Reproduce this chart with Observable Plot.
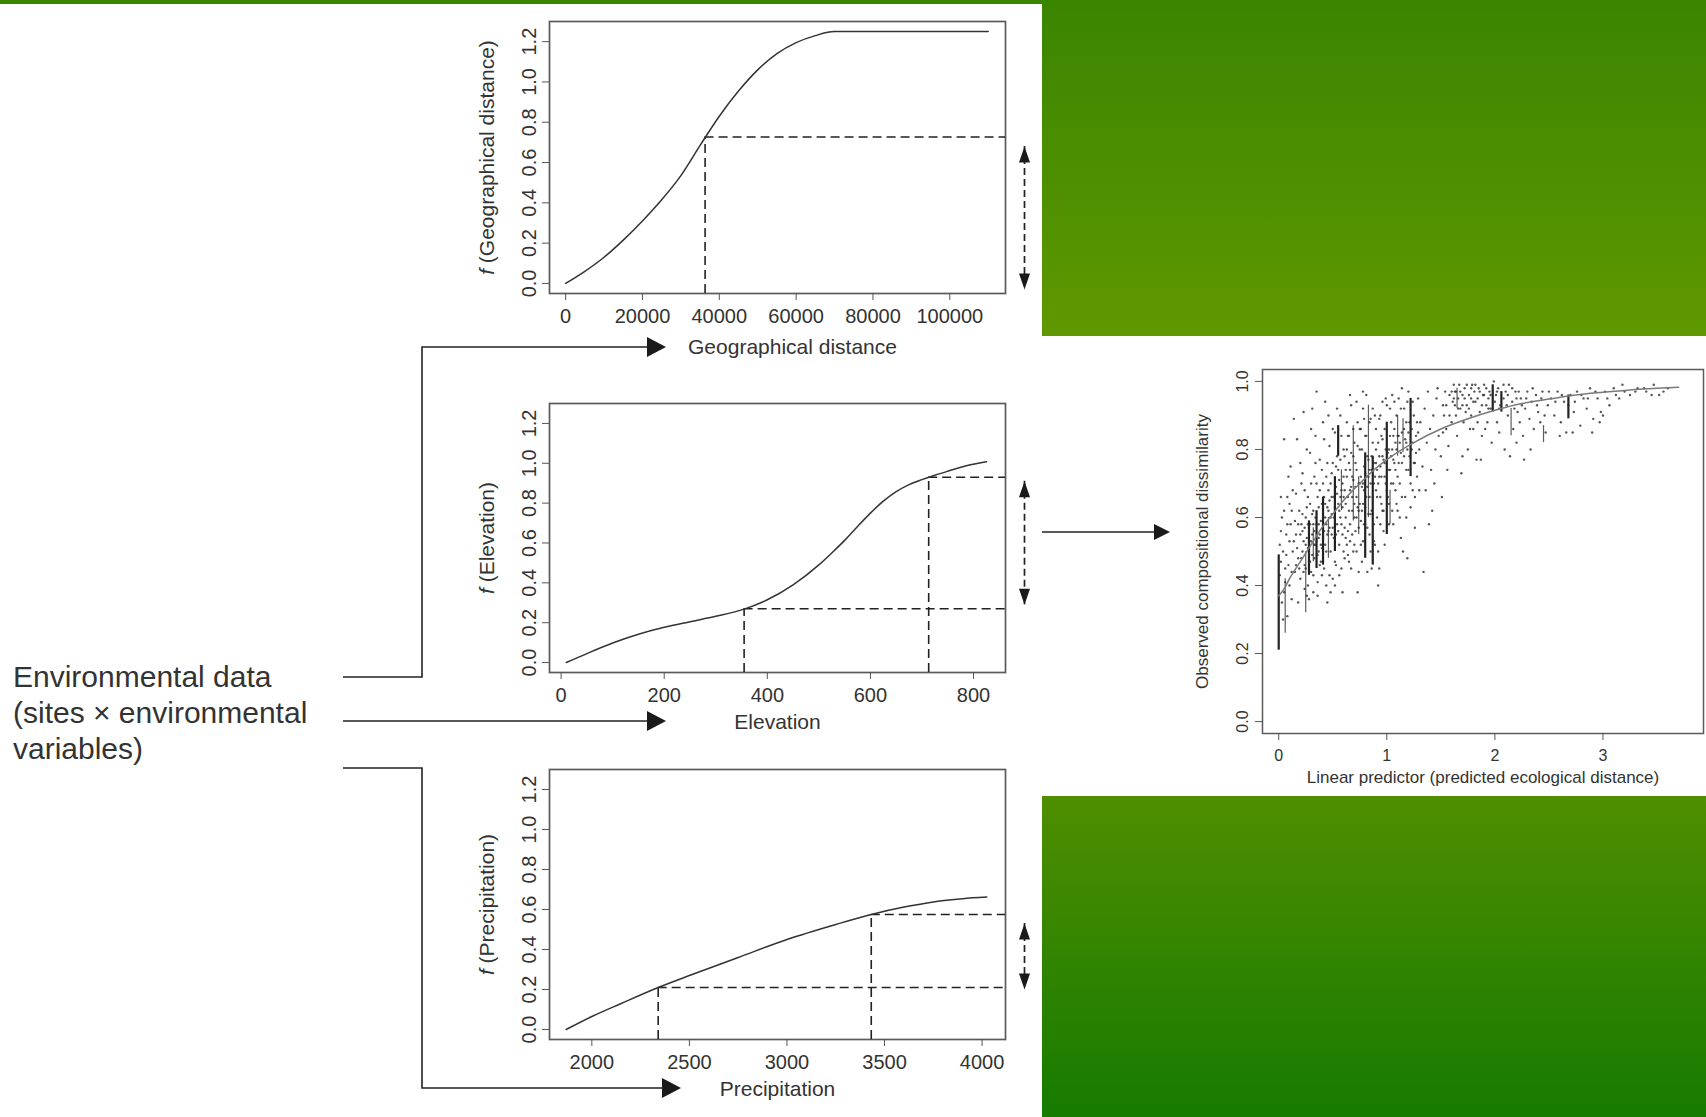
<!DOCTYPE html>
<html><head><meta charset="utf-8">
<script src="https://cdn.jsdelivr.net/npm/d3@7"></script>
<script src="https://cdn.jsdelivr.net/npm/@observablehq/plot@0.6"></script>
<style>
html,body{margin:0;padding:0;}
body{width:1706px;height:1117px;overflow:hidden;position:relative;font-family:"Liberation Sans",Arial,Helvetica,sans-serif;}
#bg{position:absolute;left:0;top:0;width:1706px;height:1117px;
 background:linear-gradient(to bottom,#3a8500 0px,#5f9800 336px,#4f8e00 796px,#167b00 1117px);}
.white{position:absolute;background:#fff;}
.panel{position:absolute;}
#overlay{position:absolute;left:0;top:0;}
</style></head>
<body>
<div id="bg"></div>
<div class="white" style="left:0;top:4px;width:1042px;height:1113px;"></div>
<div class="white" style="left:1042px;top:336px;width:664px;height:460px;"></div>
<svg id="overlay" width="1706" height="1117"></svg>
<div id="p1" class="panel" style="left:440px;top:4px;width:602px;"></div>
<div id="p2" class="panel" style="left:440px;top:380px;width:602px;"></div>
<div id="p3" class="panel" style="left:440px;top:745px;width:602px;"></div>
<div id="p4" class="panel" style="left:1170px;top:340px;width:536px;"></div>
<script>
// ---------------- data ----------------
const envLines = ["Environmental data", "(sites \u00d7 environmental", "variables)"];

const fTicks = [0, 0.2, 0.4, 0.6, 0.8, 1.0, 1.2];

const geoX = [0, 5000, 10000, 15000, 20000, 25000, 30000, 35000, 40000, 45000, 50000, 55000, 60000, 65000, 70000, 80000, 90000, 100000, 110000];
const geoF = [0, 0.06, 0.13, 0.215, 0.31, 0.415, 0.535, 0.685, 0.83, 0.955, 1.06, 1.14, 1.195, 1.23, 1.25, 1.25, 1.25, 1.25, 1.25];
const geoTicks = [0, 20000, 40000, 60000, 80000, 100000];
const geoRefX = [36300];
const geoRefF = [0.727];
const geoArrow = [-0.03, 0.68];

const elevX = [10, 50, 100, 150, 200, 250, 300, 355, 400, 450, 500, 525, 550, 575, 600, 625, 650, 675, 700, 725, 750, 790, 825];
const elevF = [0, 0.045, 0.098, 0.142, 0.177, 0.205, 0.232, 0.268, 0.315, 0.39, 0.49, 0.55, 0.613, 0.683, 0.75, 0.81, 0.858, 0.893, 0.918, 0.94, 0.96, 0.99, 1.008];
const elevTicks = [0, 200, 400, 600, 800];
const elevRefX = [355, 713];
const elevRefF = [0.27, 0.93];
const elevArrow = [0.29, 0.91];

const precX = [1868, 2000, 2150, 2340, 2500, 2750, 3000, 3250, 3432, 3600, 3750, 3900, 4024];
const precF = [0, 0.065, 0.13, 0.21, 0.27, 0.36, 0.45, 0.525, 0.575, 0.612, 0.638, 0.654, 0.662];
const precTicks = [2000, 2500, 3000, 3500, 4000];
const precRefX = [2340, 3432];
const precRefF = [0.21, 0.575];
const precArrow = [0.20, 0.53];

// GDM scatter: fitted curve, dense vertical streaks of points, and scattered points
const fitX = [0, 0.05, 0.1, 0.2, 0.3, 0.4, 0.5, 0.6, 0.75, 0.9, 1.0, 1.25, 1.5, 1.75, 2.0, 2.25, 2.5, 2.75, 3.0, 3.25, 3.5, 3.7];
const fitY = [0.37, 0.39, 0.42, 0.47, 0.52, 0.57, 0.61, 0.65, 0.70, 0.745, 0.77, 0.82, 0.86, 0.89, 0.915, 0.935, 0.948, 0.96, 0.968, 0.975, 0.98, 0.983];
const lpTicks = [0, 1, 2, 3];
const dissTicks = [0, 0.2, 0.4, 0.6, 0.8, 1.0];
const streaksHeavy = [[0.00,0.21,0.49],[0.28,0.43,0.59],[0.35,0.45,0.62],[0.41,0.46,0.66],[0.52,0.50,0.72],[0.55,0.78,0.87],[0.80,0.48,0.79],[0.87,0.46,0.78],[1.00,0.55,0.88],[1.22,0.72,0.95],[1.98,0.91,0.99],[2.06,0.91,0.97],[2.68,0.89,0.96]];
const streaksLight = [[0.06,0.26,0.42],[0.25,0.32,0.50],[0.32,0.47,0.57],[0.46,0.48,0.60],[0.58,0.62,0.74],[0.69,0.59,0.87],[0.74,0.55,0.72],[0.83,0.60,0.93],[1.03,0.58,0.68],[1.10,0.78,0.90],[1.15,0.79,0.89],[1.65,0.92,0.98],[2.15,0.84,0.92],[2.45,0.82,0.87]];
const scatterPts = [
[0.01,0.52],[0.02,0.47],[0.03,0.60],[0.05,0.83],[0.05,0.38],[0.07,0.55],[0.08,0.31],[0.09,0.72],[0.10,0.64],[0.11,0.75],[0.12,0.36],[0.13,0.50],[0.14,0.89],[0.15,0.44],[0.02,0.66],[0.04,0.30],[0.06,0.45],[0.08,0.58],[0.10,0.40],[0.12,0.62],
[0.16,0.55],[0.17,0.83],[0.18,0.48],[0.19,0.62],[0.20,0.42],[0.21,0.70],[0.22,0.56],[0.23,0.91],[0.24,0.46],[0.25,0.60],[0.26,0.37],[0.27,0.66],[0.28,0.52],[0.29,0.79],[0.30,0.44],[0.18,0.35],[0.20,0.76],[0.22,0.50],[0.24,0.68],[0.27,0.40],[0.29,0.58],[0.30,0.86],[0.16,0.67],[0.26,0.54],
[0.31,0.55],[0.32,0.62],[0.33,0.48],[0.34,0.84],[0.35,0.70],[0.36,0.41],[0.37,0.58],[0.38,0.77],[0.39,0.52],[0.40,0.64],[0.41,0.88],[0.42,0.45],[0.43,0.60],[0.44,0.72],[0.45,0.35],[0.46,0.56],[0.47,0.81],[0.48,0.50],[0.49,0.66],[0.50,0.42],[0.32,0.38],[0.34,0.52],[0.36,0.66],[0.38,0.46],[0.40,0.74],[0.42,0.56],[0.44,0.50],[0.46,0.68],[0.48,0.60],[0.50,0.76],[0.33,0.72],[0.37,0.50],[0.41,0.60],[0.45,0.63],[0.49,0.55],[0.31,0.92],[0.43,0.94],[0.47,0.43],[0.35,0.97],
[0.51,0.60],[0.52,0.85],[0.53,0.46],[0.54,0.67],[0.55,0.74],[0.56,0.52],[0.57,0.90],[0.58,0.58],[0.59,0.70],[0.60,0.80],[0.61,0.48],[0.62,0.64],[0.63,0.88],[0.64,0.56],[0.65,0.76],[0.66,0.68],[0.67,0.93],[0.68,0.62],[0.69,0.50],[0.70,0.82],[0.52,0.40],[0.54,0.78],[0.56,0.62],[0.58,0.45],[0.60,0.66],[0.62,0.74],[0.64,0.84],[0.66,0.58],[0.68,0.72],[0.70,0.64],[0.53,0.55],[0.57,0.66],[0.61,0.57],[0.65,0.47],[0.69,0.78],[0.59,0.38],[0.63,0.52],[0.67,0.45],
[0.71,0.56],[0.72,0.74],[0.73,0.88],[0.74,0.62],[0.75,0.80],[0.76,0.52],[0.77,0.69],[0.78,0.92],[0.79,0.58],[0.80,0.84],[0.81,0.66],[0.82,0.44],[0.83,0.72],[0.84,0.55],[0.85,0.89],[0.86,0.62],[0.87,0.82],[0.88,0.70],[0.89,0.52],[0.90,0.76],[0.72,0.60],[0.74,0.44],[0.76,0.86],[0.78,0.64],[0.80,0.58],[0.82,0.78],[0.84,0.66],[0.86,0.74],[0.88,0.58],[0.90,0.68],[0.73,0.38],[0.77,0.47],[0.81,0.96],[0.85,0.50],[0.89,0.90],[0.75,0.70],[0.79,0.75],[0.83,0.61],
[0.91,0.60],[0.92,0.82],[0.93,0.72],[0.94,0.90],[0.95,0.64],[0.96,0.78],[0.97,0.56],[0.98,0.86],[0.99,0.70],[1.00,0.93],[1.01,0.66],[1.02,0.80],[1.03,0.74],[1.04,0.88],[1.05,0.62],[1.06,0.84],[1.07,0.76],[1.08,0.68],[1.09,0.90],[1.10,0.72],[0.92,0.50],[0.94,0.66],[0.96,0.62],[0.98,0.76],[1.00,0.68],[1.02,0.58],[1.04,0.78],[1.06,0.70],[1.08,0.82],[0.95,0.84],[0.99,0.95],[1.05,0.96],[0.93,0.45],[1.09,0.64],
[1.11,0.84],[1.12,0.70],[1.13,0.92],[1.14,0.76],[1.16,0.86],[1.17,0.66],[1.18,0.82],[1.19,0.94],[1.20,0.74],[1.21,0.88],[1.23,0.80],[1.24,0.68],[1.25,0.90],[1.26,0.76],[1.27,0.84],[1.28,0.72],[1.29,0.95],[1.30,0.80],[1.12,0.60],[1.15,0.50],[1.18,0.74],[1.22,0.63],[1.26,0.57],[1.30,0.68],[1.14,0.98],[1.20,0.97],[1.28,0.88],
[1.31,0.88],[1.33,0.75],[1.34,0.44],[1.35,0.92],[1.37,0.82],[1.38,0.97],[1.40,0.86],[1.41,0.74],[1.43,0.90],[1.45,0.80],[1.46,0.95],[1.48,0.84],[1.50,0.78],[1.51,0.66],[1.53,0.90],[1.55,0.86],[1.56,0.74],[1.58,0.96],[1.60,0.88],[1.36,0.68],[1.42,0.62],[1.47,0.98],[1.52,0.93],[1.57,0.81],[1.44,0.70],[1.39,0.58],
[1.61,0.94],[1.62,0.99],[1.63,0.97],[1.64,0.90],[1.66,0.95],[1.67,0.99],[1.68,0.92],[1.70,0.96],[1.71,0.88],[1.72,0.98],[1.74,0.93],[1.75,0.80],[1.76,0.96],[1.78,0.90],[1.79,0.99],[1.80,0.86],[1.82,0.94],[1.83,0.77],[1.85,0.98],[1.86,0.91],[1.88,0.84],[1.89,0.96],[1.90,0.99],[1.92,0.93],[1.93,0.88],[1.95,0.97],[1.96,0.92],[1.97,0.82],[1.99,1.00],[1.65,0.84],[1.70,0.78],[1.77,0.86],[1.81,0.97],[1.84,0.88],[1.87,0.77],[1.91,0.86],[1.94,0.95],[1.69,0.73],[1.73,0.91],[1.63,0.93],[1.78,0.95],
[2.01,0.96],[2.02,0.88],[2.03,0.98],[2.05,0.93],[2.08,0.95],[2.09,0.80],[2.10,0.97],[2.12,0.90],[2.13,0.99],[2.16,0.94],[2.17,0.86],[2.19,0.97],[2.21,0.91],[2.23,0.88],[2.24,0.95],[2.26,0.84],[2.28,0.92],[2.30,0.97],[2.32,0.89],[2.34,0.94],[2.36,0.86],[2.38,0.96],[2.40,0.91],[2.42,0.88],[2.44,0.97],[2.47,0.85],[2.49,0.93],[2.04,0.85],[2.14,0.78],[2.20,0.82],[2.27,0.77],[2.33,0.80],[2.46,0.90],[2.11,0.93],[2.18,0.92],
[2.52,0.95],[2.55,0.90],[2.58,0.97],[2.61,0.88],[2.64,0.94],[2.66,0.85],[2.70,0.96],[2.73,0.91],[2.76,0.97],[2.79,0.87],[2.82,0.95],[2.85,0.92],[2.88,0.98],[2.91,0.89],[2.95,0.95],[2.98,0.91],[3.02,0.97],[3.06,0.93],[3.10,0.98],[3.15,0.95],[3.20,0.97],[3.25,0.96],[3.32,0.98],[3.40,0.97],[3.47,0.99],[3.52,0.96],[3.56,0.97],[2.60,0.84],[2.72,0.85],[2.90,0.85],[2.97,0.88],[3.00,0.90],
[0.21,0.48],[0.22,0.61],[0.23,0.53],[0.24,0.57],[0.25,0.45],[0.26,0.63],[0.27,0.51],[0.28,0.47],[0.29,0.64],[0.30,0.53],[0.31,0.49],[0.32,0.58],[0.33,0.56],[0.34,0.60],[0.35,0.53],[0.36,0.49],[0.37,0.63],[0.38,0.55],[0.39,0.59],[0.40,0.51],[0.21,0.58],[0.23,0.44],[0.25,0.52],[0.27,0.58],[0.29,0.47],[0.31,0.61],[0.33,0.52],[0.35,0.58],[0.37,0.54],[0.39,0.47],[0.22,0.73],[0.26,0.80],[0.30,0.70],[0.34,0.76],[0.38,0.68],[0.24,0.39],[0.28,0.36],[0.32,0.43],[0.36,0.37],[0.40,0.43],
[0.41,0.54],[0.42,0.66],[0.43,0.52],[0.44,0.58],[0.45,0.55],[0.46,0.62],[0.47,0.57],[0.48,0.70],[0.49,0.61],[0.50,0.57],[0.51,0.66],[0.52,0.63],[0.53,0.69],[0.54,0.58],[0.55,0.64],[0.56,0.71],[0.57,0.60],[0.58,0.68],[0.59,0.63],[0.60,0.72],[0.41,0.70],[0.43,0.64],[0.45,0.76],[0.47,0.65],[0.49,0.73],[0.51,0.54],[0.53,0.75],[0.55,0.56],[0.57,0.77],[0.59,0.55],[0.42,0.83],[0.46,0.90],[0.50,0.86],[0.54,0.92],[0.58,0.84],[0.44,0.40],[0.48,0.38],[0.52,0.47],[0.56,0.43],[0.60,0.50],
[0.61,0.68],[0.62,0.60],[0.63,0.72],[0.64,0.66],[0.65,0.62],[0.66,0.74],[0.67,0.69],[0.68,0.66],[0.69,0.71],[0.70,0.60],[0.71,0.69],[0.72,0.66],[0.73,0.63],[0.74,0.70],[0.75,0.64],[0.76,0.72],[0.77,0.62],[0.78,0.70],[0.79,0.68],[0.80,0.73],[0.61,0.78],[0.63,0.80],[0.65,0.84],[0.67,0.79],[0.69,0.86],[0.71,0.76],[0.73,0.81],[0.75,0.86],[0.77,0.80],[0.79,0.89],[0.62,0.54],[0.64,0.49],[0.66,0.53],[0.68,0.55],[0.70,0.52],[0.72,0.50],[0.74,0.57],[0.76,0.59],[0.78,0.53],[0.80,0.63],[0.66,0.96],[0.72,0.94],[0.78,0.97],
[0.81,0.72],[0.82,0.69],[0.83,0.77],[0.84,0.74],[0.85,0.70],[0.86,0.78],[0.87,0.66],[0.88,0.76],[0.89,0.72],[0.90,0.80],[0.91,0.74],[0.92,0.70],[0.93,0.78],[0.94,0.75],[0.95,0.72],[0.96,0.83],[0.97,0.77],[0.98,0.72],[0.99,0.80],[0.81,0.84],[0.84,0.88],[0.87,0.92],[0.90,0.86],[0.93,0.89],[0.96,0.94],[0.82,0.57],[0.85,0.61],[0.88,0.53],[0.91,0.66],[0.94,0.58],[0.97,0.62],[0.86,0.45],[0.92,0.40],[0.98,0.52],
[1.01,0.79],[1.02,0.74],[1.03,0.84],[1.04,0.70],[1.05,0.80],[1.06,0.77],[1.07,0.86],[1.08,0.74],[1.09,0.80],[1.10,0.84],[1.11,0.76],[1.12,0.82],[1.13,0.79],[1.14,0.85],[1.16,0.78],[1.17,0.83],[1.18,0.88],[1.19,0.80],[1.20,0.85],[1.21,0.78],[1.23,0.86],[1.24,0.82],[1.25,0.76],[1.27,0.79],[1.29,0.85],[1.03,0.92],[1.07,0.94],[1.11,0.95],[1.16,0.92],[1.24,0.94],[1.02,0.64],[1.06,0.58],[1.10,0.62],[1.14,0.66],[1.18,0.60],[1.22,0.70],[1.26,0.66],[1.13,0.54],[1.19,0.48],
[1.62,0.95],[1.64,0.97],[1.66,0.92],[1.68,0.97],[1.70,0.93],[1.72,0.95],[1.74,0.99],[1.76,0.92],[1.78,0.98],[1.80,0.94],[1.82,0.99],[1.84,0.95],[1.86,0.97],[1.88,0.93],[1.90,0.96],[1.92,0.98],[1.94,0.92],[1.96,0.96],[2.00,0.94],[2.02,0.97],[2.04,0.92],[2.08,0.99],[2.12,0.96],[2.16,0.98],[2.20,0.95],[1.55,0.93],[1.58,0.90],[1.60,0.97],[1.52,0.85],[1.54,0.97],
[2.22,0.97],[2.25,0.93],[2.29,0.95],[2.35,0.98],[2.39,0.93],[2.43,0.95],[2.50,0.97],[2.56,0.94],[2.62,0.96],[2.68,0.93],[2.74,0.94],[2.80,0.96],[2.86,0.95],[2.93,0.97],[3.04,0.95],[3.12,0.96],[3.18,0.99],[3.30,0.97],[3.38,0.98],[3.45,0.96],[3.60,0.98],
[0.01,0.43],[0.02,0.56],[0.03,0.35],[0.04,0.50],[0.05,0.62],[0.06,0.41],[0.07,0.49],[0.08,0.66],[0.09,0.46],[0.10,0.53],[0.11,0.58],[0.12,0.44],[0.13,0.68],[0.14,0.53],[0.15,0.59],[0.16,0.46],[0.17,0.51],[0.18,0.58],[0.19,0.45],[0.20,0.55]
];

// ---------------- rendering ----------------
const FONT = "'Liberation Sans', Arial, Helvetica, sans-serif";
const INK = "#333";
const headUp = {draw(ctx) { ctx.moveTo(0, 0); ctx.lineTo(5.5, 16); ctx.lineTo(-5.5, 16); ctx.closePath(); }};
const headDown = {draw(ctx) { ctx.moveTo(0, 0); ctx.lineTo(5.5, -16); ctx.lineTo(-5.5, -16); ctx.closePath(); }};
const fDomain = [-0.05, 1.30];

function italicF(svg, label) {
  svg.querySelectorAll("text").forEach(t => {
    if (t.textContent === label) {
      const rest = label.slice(1);
      t.textContent = "";
      const a = document.createElementNS("http://www.w3.org/2000/svg", "tspan");
      a.setAttribute("font-style", "italic");
      a.textContent = "f";
      t.appendChild(a);
      t.appendChild(document.createTextNode(rest));
    }
  });
}

function fPanel(el, o) {
  const data = o.xs.map((x, i) => ({x, f: o.fs[i]}));
  const refs = o.rx.map((x, i) => ({x, f: o.rf[i]}));
  const [x0, x1] = o.xDomain;
  const [y0] = fDomain;
  const svg = Plot.plot({
    width: 602, height: o.height,
    marginLeft: 109, marginRight: 37, marginTop: o.mt, marginBottom: o.mb,
    x: {domain: o.xDomain, label: null},
    y: {domain: fDomain, label: null},
    style: {fontFamily: FONT, fontSize: "20px", color: INK, background: "transparent", overflow: "visible"},
    marks: [
      Plot.frame({stroke: "#5a5a5a", strokeWidth: 1.7}),
      Plot.axisX({ticks: o.ticks, tickFormat: d3.format("d"), tickSize: 7, tickPadding: 8, stroke: "#555", label: null}),
      Plot.axisY({ticks: fTicks, tickFormat: d3.format(".1f"), tickSize: 7, tickPadding: 7, tickRotate: -90, stroke: "#555", label: null}),
      Plot.ruleX(refs, {x: "x", y1: () => y0, y2: "f", stroke: "#222", strokeWidth: 1.6, strokeDasharray: "9,5"}),
      Plot.ruleY(refs, {y: "f", x1: "x", x2: () => x1, stroke: "#222", strokeWidth: 1.6, strokeDasharray: "9,5"}),
      Plot.line(data, {x: "x", y: "f", curve: "monotone-x", stroke: "#333", strokeWidth: 1.5}),
      Plot.ruleX([o.arrow], {x: () => x1, y1: d => d[1], y2: d => d[0], dx: 19, stroke: "#222", strokeWidth: 1.7, strokeDasharray: "7,4"}),
      Plot.dot([o.arrow], {x: () => x1, y: d => d[1], dx: 19, symbol: headUp, fill: "#1a1a1a", stroke: "none"}),
      Plot.dot([o.arrow], {x: () => x1, y: d => d[0], dx: 19, symbol: headDown, fill: "#1a1a1a", stroke: "none"}),
      Plot.text([o.ylab], {frameAnchor: "left", dx: -62, rotate: -90, text: d => d, textAnchor: "middle", lineAnchor: "middle", fontSize: 21, fill: INK}),
      Plot.text([o.xlab], {frameAnchor: "bottom", dy: o.xlabDy, dx: o.xlabDx, text: d => d, textAnchor: "middle", lineAnchor: "middle", fontSize: 21, fill: INK})
    ]
  });
  italicF(svg, o.ylab);
  el.appendChild(svg);
}

fPanel(document.getElementById("p1"), {xs: geoX, fs: geoF, rx: geoRefX, rf: geoRefF, arrow: geoArrow,
  xDomain: [-4200, 114500], ticks: geoTicks, height: 356, mt: 17, mb: 67,
  ylab: "f (Geographical distance)", xlab: "Geographical distance", xlabDy: 54, xlabDx: 15});
fPanel(document.getElementById("p2"), {xs: elevX, fs: elevF, rx: elevRefX, rf: elevRefF, arrow: elevArrow,
  xDomain: [-22.5, 862], ticks: elevTicks, height: 360, mt: 23, mb: 68,
  ylab: "f (Elevation)", xlab: "Elevation", xlabDy: 50, xlabDx: 0});
fPanel(document.getElementById("p3"), {xs: precX, fs: precF, rx: precRefX, rf: precRefF, arrow: precArrow,
  xDomain: [1783, 4120], ticks: precTicks, height: 370, mt: 24, mb: 76,
  ylab: "f (Precipitation)", xlab: "Precipitation", xlabDy: 50, xlabDx: 0});

// scatter panel
{
  const fit = fitX.map((x, i) => ({x, y: fitY[i]}));
  const svg = Plot.plot({
    width: 536, height: 456, marginLeft: 92, marginRight: 3, marginTop: 29, marginBottom: 63,
    x: {domain: [-0.15, 3.93], label: null},
    y: {domain: [-0.035, 1.035], label: null},
    style: {fontFamily: FONT, fontSize: "16px", color: INK, background: "transparent", overflow: "visible"},
    marks: [
      Plot.frame({stroke: "#5a5a5a", strokeWidth: 1.5}),
      Plot.axisX({ticks: lpTicks, tickFormat: d3.format("d"), tickSize: 7, tickPadding: 9, stroke: "#555", label: null}),
      Plot.axisY({ticks: dissTicks, tickFormat: d3.format(".1f"), tickSize: 7, tickPadding: 8, tickRotate: -90, stroke: "#555", label: null}),
      Plot.ruleX(streaksLight, {x: d => d[0], y1: d => d[2], y2: d => d[1], stroke: "#333", strokeWidth: 1.2, strokeOpacity: 0.8}),
      Plot.ruleX(streaksHeavy, {x: d => d[0], y1: d => d[2], y2: d => d[1], stroke: "#222", strokeWidth: 2.2}),
      Plot.dot(scatterPts, {x: d => d[0], y: d => d[1], r: 1.2, fill: "#2a2a2a", fillOpacity: 0.8, stroke: "none"}),
      Plot.line(fit, {x: "x", y: "y", curve: "monotone-x", stroke: "#7a7a7a", strokeWidth: 1.5}),
      Plot.text(["Observed compositional dissimilarity"], {frameAnchor: "left", dx: -60, rotate: -90, text: d => d, textAnchor: "middle", lineAnchor: "middle", fontSize: 17, fill: INK}),
      Plot.text(["Linear predictor (predicted ecological distance)"], {frameAnchor: "bottom", dy: 44, text: d => d, textAnchor: "middle", lineAnchor: "middle", fontSize: 17, fill: INK})
    ]
  });
  document.getElementById("p4").appendChild(svg);
}

// connectors and left text (decoration)
{
  const ov = d3.select("#overlay");
  const g = ov.append("g").attr("stroke", "#222").attr("stroke-width", 1.6).attr("fill", "none");
  g.append("path").attr("d", "M343,677H422V347H650");
  g.append("path").attr("d", "M343,721H650");
  g.append("path").attr("d", "M343,768H422V1088H665");
  g.append("path").attr("d", "M1042,532H1156");
  const h = ov.append("g").attr("fill", "#1a1a1a");
  h.append("path").attr("d", "M647,337L666,347L647,357Z");
  h.append("path").attr("d", "M647,711L666,721L647,731Z");
  h.append("path").attr("d", "M662,1078L681,1088L662,1098Z");
  h.append("path").attr("d", "M1154,524L1170,532L1154,540Z");
  const t = ov.append("g").attr("font-family", FONT).attr("font-size", 30).attr("fill", INK);
  envLines.forEach((s, i) => t.append("text").attr("x", 13).attr("y", 687 + i * 36).text(s));
}
</script>
</body></html>
